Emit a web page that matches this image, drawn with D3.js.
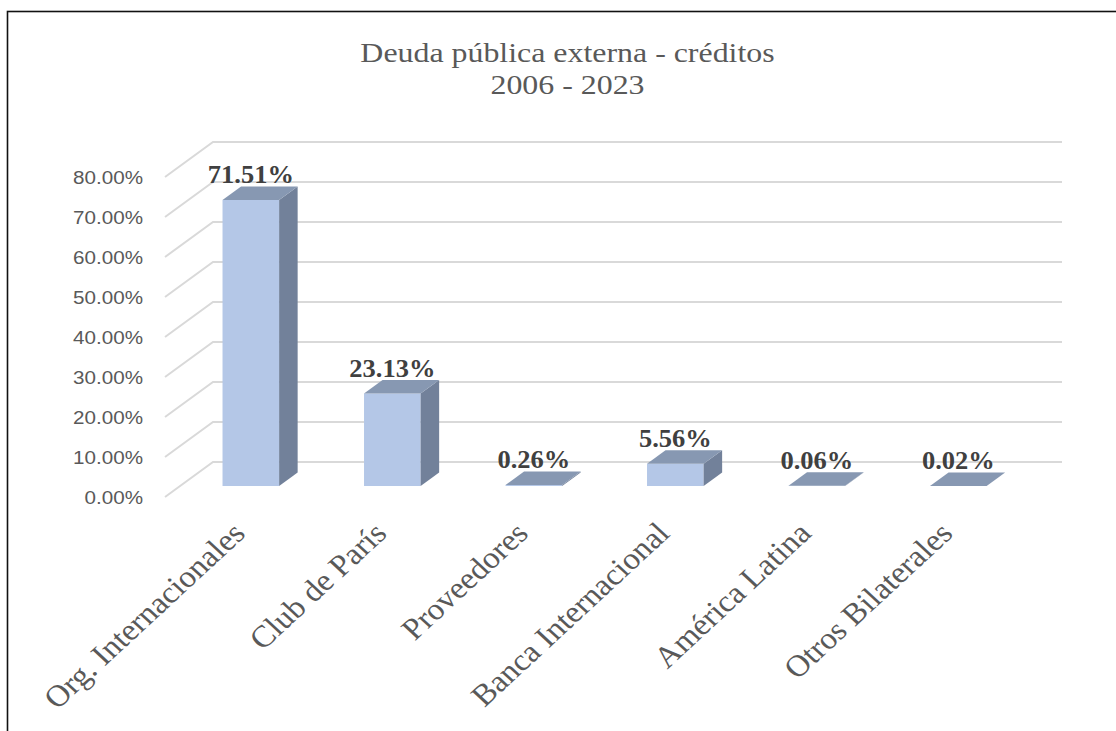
<!DOCTYPE html>
<html><head><meta charset="utf-8">
<script src="https://cdn.jsdelivr.net/npm/d3@7"></script>
<style>body{margin:0;background:#fff} svg{display:block}</style>
</head><body><svg id="c" width="1116" height="731"></svg>
<script>
const categories = ["Org. Internacionales","Club de París","Proveedores","Banca Internacional","América Latina","Otros Bilaterales"];
const values = [71.51, 23.13, 0.26, 5.56, 0.06, 0.02];
const yTicks = [0,10,20,30,40,50,60,70,80];
const titleLines = ["Deuda pública externa - créditos","2006 - 2023"];

const svg = d3.select("#c");
const serif = "'Liberation Serif','Times New Roman',serif";
const sans = "'Liberation Sans',Arial,sans-serif";

svg.append("rect").attr("x",7.5).attr("y",11.5).attr("width",1200).attr("height",800)
  .attr("fill","#fff").attr("stroke","#111").attr("stroke-width",1.6);

const backL = 213, backR = 1062;
const depthX = -48, depthY = 35;     // back wall -> front edge
const f1 = 0.686, f0 = 0.30;          // bar depth fractions (front, back)

const x = d3.scaleBand().domain(categories).range([backL, backR]).paddingInner(0.6).paddingOuter(0.3);
const y = d3.scaleLinear().domain([0, 80]).range([462, 142]);

// gridlines (side wall diagonal + back wall)
const grid = svg.append("g");
yTicks.forEach(t => {
  const yy = y(t);
  grid.append("polyline")
    .attr("points", `${backL+depthX},${yy+depthY} ${backL},${yy} ${backR},${yy}`)
    .attr("fill","none").attr("stroke","#d9d9d9").attr("stroke-width",2);
});

// y tick labels
const yl = svg.append("g");
yTicks.forEach(t => {
  yl.append("g").attr("transform", `translate(143,${y(t)+depthY}) scale(1.11,1)`)
    .append("text").attr("text-anchor","end").attr("dy","0.35em")
    .attr("font-family",sans).attr("font-size",18.6).attr("fill","#595959")
    .text(d3.format(".2f")(t) + "%");
});

// bars
const ddx = (f1 - f0) * (-depthX), ddy = -(f1 - f0) * depthY;
const w = x.bandwidth();
const bars = svg.append("g");
categories.forEach((c, i) => {
  const v = values[i];
  const xb = x(c) + f1 * depthX;
  const yb = y(0) + f1 * depthY;
  const yt = y(v) + f1 * depthY;
  bars.append("rect").attr("x", xb).attr("y", yt).attr("width", w).attr("height", Math.max(0, yb - yt))
    .attr("fill","#b4c7e7");
  bars.append("polygon")
    .attr("points", `${xb+w},${yb} ${xb+w},${yt} ${xb+w+ddx},${yt+ddy} ${xb+w+ddx},${yb+ddy}`)
    .attr("fill","#72819a");
  bars.append("polygon")
    .attr("points", `${xb},${yt} ${xb+w},${yt} ${xb+w+ddx},${yt+ddy} ${xb+ddx},${yt+ddy}`)
    .attr("fill","#8798b2");
  // value label
  svg.append("g").attr("transform", `translate(${xb + w/2},${yt + ddy - 3}) scale(1.06,1)`)
    .append("text").attr("text-anchor","middle")
    .attr("font-family",serif).attr("font-weight","bold").attr("font-size",25).attr("fill","#404040")
    .text(d3.format(".2f")(v) + "%");
  // category label
  svg.append("g").attr("transform", `translate(${xb + w/2 - 4},535) scale(1.08,1) rotate(-45)`)
    .append("text").attr("text-anchor","end")
    .attr("font-family",serif).attr("font-size",30.5).attr("fill","#595959")
    .text(c);
});

// title
titleLines.forEach((t, i) => {
  svg.append("g").attr("transform", `translate(567.5,${i === 0 ? 61.7 : 94}) scale(1.16,1)`)
    .append("text").attr("text-anchor","middle")
    .attr("font-family",serif).attr("font-size",27.5).attr("fill","#595959")
    .text(t);
});
</script></body></html>
